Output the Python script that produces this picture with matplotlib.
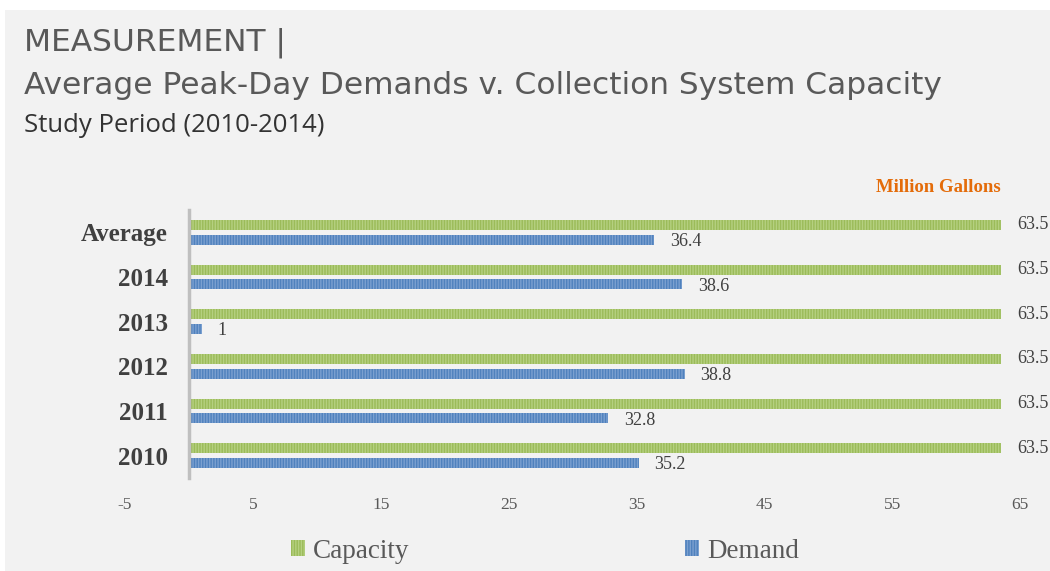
import matplotlib.pyplot as plt
from matplotlib.patches import Rectangle

# categories listed bottom to top
categories = ['2010', '2011', '2012', '2013', '2014', 'Average']
capacity = [63.5, 63.5, 63.5, 63.5, 63.5, 63.5]
demand = [35.2, 32.8, 38.8, 1, 38.6, 36.4]
xticks = [-5, 5, 15, 25, 35, 45, 55, 65]

GREEN = '#9bbb59'
BLUE = '#4f81bd'
TEXT = '#404040'
SERIF = ['Liberation Serif', 'DejaVu Serif']

fig = plt.figure(figsize=(10.5, 5.71), dpi=100, facecolor='white')
# grey panel behind everything, white margin on top and left
fig.patches.append(Rectangle((5 / 1050, 0), 1 - 5 / 1050, 1 - 10 / 571,
                             transform=fig.transFigure, facecolor='#f2f2f2',
                             edgecolor='none', zorder=-10))

fig.text(24 / 1050, 1 - 43 / 571, 'MEASUREMENT |', fontsize=22.5,
         color='#595959', family='DejaVu Sans', va='center')
fig.text(24 / 1050, 1 - 85 / 571,
         'Average Peak-Day Demands v. Collection System Capacity',
         fontsize=22.5, color='#595959', family='DejaVu Sans', va='center')
fig.text(24 / 1050, 1 - 125 / 571, 'Study Period (2010-2014)', fontsize=18.5,
         color='#333333', family='Open Sans', va='center')

ax = fig.add_axes([125 / 1050, 1 - 478 / 571, 895 / 1050, 268 / 571])
ax.set_facecolor('none')
ax.spines['left'].set_position(('data', 0))
ax.spines['left'].set_color('#bfbfbf')
ax.spines['left'].set_linewidth(2.5)
for s in ['top', 'right', 'bottom']:
    ax.spines[s].set_visible(False)

h = 0.22
off = 0.165
pos = list(range(len(categories)))
cap_bars = ax.barh([p + off for p in pos], capacity, height=h,
                   color=GREEN, edgecolor='#b5d080', linewidth=0,
                   hatch='||||||', label='Capacity')
dem_bars = ax.barh([p - off for p in pos], demand, height=h,
                   color=BLUE, edgecolor='#7ba0d0', linewidth=0,
                   hatch='||||||', label='Demand')

for p, v in zip(pos, capacity):
    ax.text(v + 1.3, p + off, f'{v:g}', va='center', ha='left',
            fontsize=13, color=TEXT, family=SERIF)
for p, v in zip(pos, demand):
    ax.text(v + 1.2, p - off - 0.04, f'{v:g}', va='center', ha='left',
            fontsize=13, color=TEXT, family=SERIF)

ax.set_xlim(-5, 65)
ax.set_ylim(-0.5, len(categories) - 0.5)
ax.set_xticks(xticks)
ax.set_xticklabels([str(t) for t in xticks], family=SERIF, fontsize=12.5,
                   color='#595959')
ax.set_yticks(pos)
ax.set_yticklabels(categories, family=SERIF, fontsize=18, fontweight='bold',
                   color=TEXT)
ax.tick_params(axis='both', length=0)
ax.tick_params(axis='y', pad=15)
ax.tick_params(axis='x', pad=14)

fig.text(1001 / 1050, 1 - 187 / 571, 'Million Gallons', fontsize=13.5,
         fontweight='bold', color='#e46c0a', family=SERIF, ha='right',
         va='center')

fig.legend(handles=[cap_bars, dem_bars], labels=['Capacity', 'Demand'],
           loc='center', bbox_to_anchor=(545 / 1050, 1 - 551 / 571), ncol=2,
           frameon=False, columnspacing=10.2, handlelength=0.5,
           handleheight=0.5, handletextpad=0.3,
           prop={'family': SERIF, 'size': 19.5}, labelcolor='#595959')

fig.savefig('out.png', dpi=100, facecolor=fig.get_facecolor())
